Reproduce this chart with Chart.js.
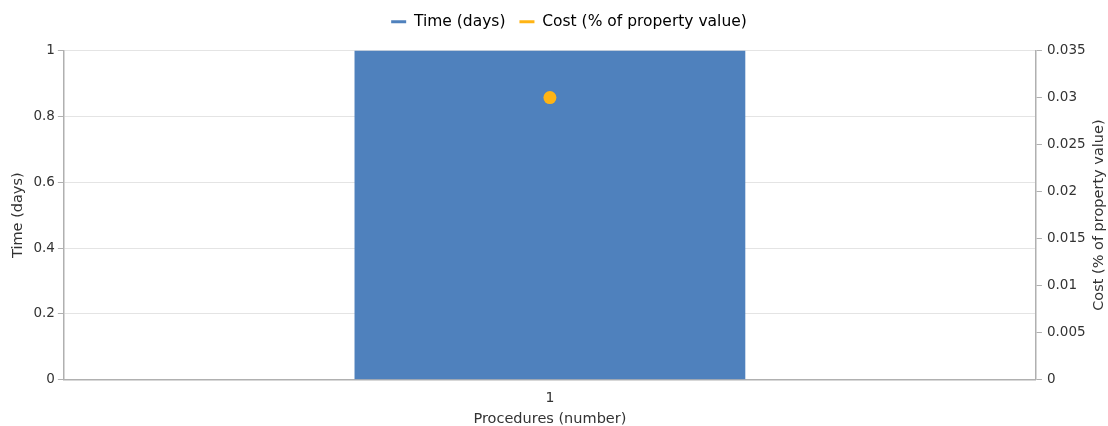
<!DOCTYPE html>
<html>
<head>
<meta charset="utf-8">
<script src="https://cdn.jsdelivr.net/npm/chart.js@4/dist/chart.umd.min.js"></script>
<style>
  html, body { margin: 0; padding: 0; background: #fff; }
  #wrap { width: 1108px; height: 426px; position: relative; }
</style>
</head>
<body>
<div id="wrap"><canvas id="chart"></canvas></div>
<script>
// procedures count on the x axis
const procedures = ['1'];
const timeDays = [1];
const costPct = [0.03];

const timeTicks = [0, 0.2, 0.4, 0.6, 0.8, 1];
const costTicks = [0, 0.005, 0.01, 0.015, 0.02, 0.025, 0.03, 0.035];

const BLUE = '#4f81bd';
const ORANGE = '#ffb414';
const TEXT = '#333';
const FONT = '"DejaVu Sans", sans-serif';
const TITLE_SIZE = 14.5;
const COST_TITLE = 'Cost (% of property value)';

Chart.defaults.font.family = FONT;
Chart.defaults.color = TEXT;

const fmt = (v) => String(+v.toFixed(4));

// extra room under the legend, legend nudged right a bit
const legendGap = {
  id: 'legendGap',
  beforeInit(chart) {
    const fit = chart.legend.fit;
    chart.legend.fit = function () {
      fit.bind(chart.legend)();
      this.height += 11;
    };
  },
  afterLayout(chart) {
    chart.legend.left += 12;
    chart.legend.right += 12;
  }
};

// right axis title reads bottom-to-top
const rightTitle = {
  id: 'rightTitle',
  afterDraw(chart) {
    const s = chart.scales.yCost;
    const ctx = chart.ctx;
    ctx.save();
    ctx.font = `${TITLE_SIZE}px ${FONT}`;
    ctx.fillStyle = TEXT;
    ctx.textAlign = 'center';
    ctx.textBaseline = 'middle';
    ctx.translate(s.right - TITLE_SIZE * 0.6, (s.top + s.bottom) / 2);
    ctx.rotate(-Math.PI / 2);
    ctx.fillText(COST_TITLE, 0, 0);
    ctx.restore();
  }
};

new Chart(document.getElementById('chart'), {
  data: {
    labels: procedures,
    datasets: [
      {
        type: 'line',
        label: COST_TITLE,
        data: costPct,
        yAxisID: 'yCost',
        borderColor: ORANGE,
        backgroundColor: ORANGE,
        showLine: false,
        pointRadius: 6.5,
        pointHoverRadius: 6.5,
        pointBorderWidth: 0,
        order: 0
      },
      {
        type: 'bar',
        label: 'Time (days)',
        data: timeDays,
        yAxisID: 'yTime',
        backgroundColor: BLUE,
        borderWidth: 0,
        barPercentage: 0.402,
        categoryPercentage: 1,
        order: 1
      }
    ]
  },
  plugins: [legendGap, rightTitle],
  options: {
    responsive: true,
    maintainAspectRatio: false,
    animation: false,
    layout: { padding: { left: 6, right: 0, top: 0, bottom: -2 } },
    plugins: {
      tooltip: { enabled: false },
      legend: {
        position: 'top',
        reverse: true,
        labels: {
          boxWidth: 15,
          boxHeight: 3,
          padding: 14,
          font: { size: 15.5 },
          color: TEXT,
          generateLabels: (chart) => chart.data.datasets.map((ds, i) => ({
            text: ds.label,
            fillStyle: ds.type === 'bar' ? ds.backgroundColor : ds.borderColor,
            strokeStyle: 'rgba(0,0,0,0)',
            lineWidth: 0,
            hidden: false,
            datasetIndex: i
          }))
        }
      }
    },
    scales: {
      x: {
        grid: { display: false, drawTicks: false },
        border: { color: '#b0b0b0', width: 1.5 },
        ticks: { padding: 10, font: { size: 14 } },
        title: { display: true, text: 'Procedures (number)', font: { size: TITLE_SIZE }, padding: { top: -6, bottom: 0 } }
      },
      yTime: {
        position: 'left',
        min: 0,
        max: 1,
        afterBuildTicks: (axis) => { axis.ticks = timeTicks.map(v => ({ value: v })); },
        ticks: { padding: 3, font: { size: 13.5 }, callback: fmt },
        grid: { color: '#e4e4e4', tickColor: '#b0b0b0', tickLength: 6, lineWidth: 1 },
        border: { color: '#b0b0b0', width: 1.5 },
        title: { display: true, text: 'Time (days)', font: { size: TITLE_SIZE }, padding: { bottom: 3 } }
      },
      yCost: {
        position: 'right',
        min: 0,
        max: 0.035,
        afterBuildTicks: (axis) => { axis.ticks = costTicks.map(v => ({ value: v })); },
        ticks: { padding: 5, font: { size: 13.5 }, callback: fmt },
        grid: { drawOnChartArea: false, tickColor: '#b0b0b0', tickLength: 6 },
        border: { color: '#b0b0b0', width: 1.5 },
        title: { display: true, text: COST_TITLE, color: 'rgba(0,0,0,0)', font: { size: TITLE_SIZE }, padding: { top: 0, bottom: 0 } }
      }
    }
  }
});
</script>
</body>
</html>
